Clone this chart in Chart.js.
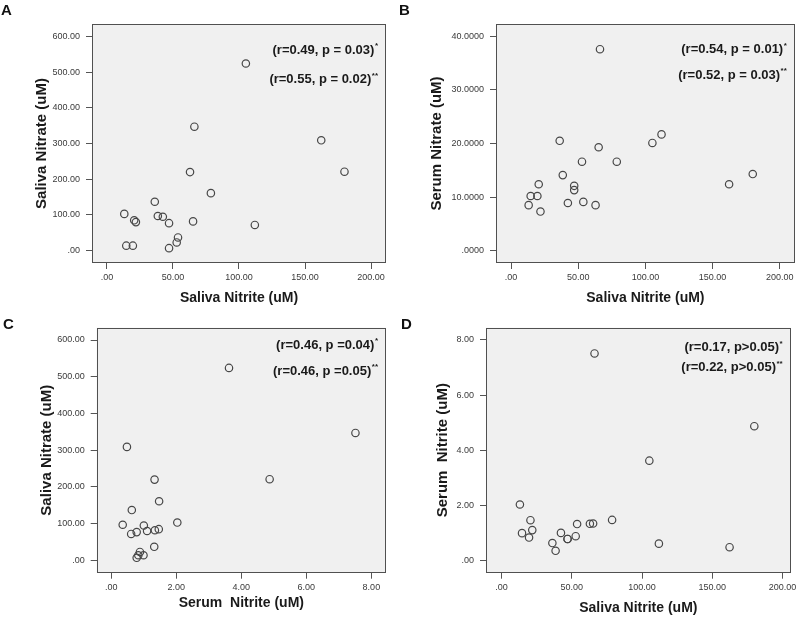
<!DOCTYPE html>
<html><head><meta charset="utf-8">
<script src="https://cdn.jsdelivr.net/npm/chart.js@4/dist/chart.umd.min.js"></script>
<style>
html,body{margin:0;padding:0;background:#fff;}
#wrap{position:relative;width:800px;height:617px;overflow:hidden;background:#fff;}
canvas{position:absolute;}
.lbl{position:absolute;font:bold 15px "Liberation Sans",Arial,sans-serif;color:#111;line-height:1;}
</style></head><body>
<div id="wrap">
<canvas id="cA" width="400" height="310" style="left:0;top:0"></canvas>
<canvas id="cB" width="400" height="310" style="left:400px;top:0"></canvas>
<canvas id="cC" width="400" height="307" style="left:0;top:310px"></canvas>
<canvas id="cD" width="400" height="307" style="left:400px;top:310px"></canvas>
<div class="lbl" style="left:1px;top:2px">A</div>
<div class="lbl" style="left:399px;top:2px">B</div>
<div class="lbl" style="left:3px;top:316px">C</div>
<div class="lbl" style="left:401px;top:316px">D</div>
</div>
<script>
// ---- data (one entry per subject) ----
const salivaNitrite = [13.1, 14.6, 19.6, 20.6, 21.9, 36.2, 38.5, 42.3, 47.0, 47.0, 52.8, 53.8, 62.9, 65.2, 66.2, 78.7, 105.2, 112.0, 162.3, 179.9];
const salivaNitrate = [103, 14, 14, 85, 80, 137, 97, 95, 77, 7, 23, 37, 220, 82, 347, 161, 524, 72, 309, 221];
const serumNitrate  = [8.5, 10.2, 10.2, 12.4, 7.3, 20.5, 14.1, 8.9, 12.1, 11.3, 16.6, 9.1, 8.5, 19.3, 37.6, 16.6, 20.1, 21.7, 12.4, 14.3];
const serumNitrite  = [2.03, 0.99, 0.83, 1.46, 1.10, 0.63, 0.35, 1.00, 0.78, 0.78, 0.88, 1.32, 1.33, 1.34, 7.51, 1.47, 3.62, 0.61, 0.48, 4.87];

// ---- tick values and labels ----
const ticksSalivaNitrite = [0, 50, 100, 150, 200];
const labelsSalivaNitrite = ['.00', '50.00', '100.00', '150.00', '200.00'];
const ticksSalivaNitrate = [0, 100, 200, 300, 400, 500, 600];
const labelsSalivaNitrate = ['.00', '100.00', '200.00', '300.00', '400.00', '500.00', '600.00'];
const ticksSerumNitrate = [0, 10, 20, 30, 40];
const labelsSerumNitrate = ['.0000', '10.0000', '20.0000', '30.0000', '40.0000'];
const ticksSerumNitrite = [0, 2, 4, 6, 8];
const labelsSerumNitrite = ['.00', '2.00', '4.00', '6.00', '8.00'];

// ---- statistics text ----
const statsA = ['(r=0.49, p = 0.03)', '(r=0.55, p = 0.02)'];
const statsB = ['(r=0.54, p = 0.01)', '(r=0.52, p = 0.03)'];
const statsC = ['(r=0.46, p =0.04)', '(r=0.46, p =0.05)'];
const statsD = ['(r=0.17, p>0.05)', '(r=0.22, p>0.05)'];
const stars = ['*', '**'];

const FONT = '"Liberation Sans", Arial, sans-serif';

const framePlugin = {
  id: 'frame',
  beforeDraw(chart) {
    const {ctx, chartArea: a} = chart;
    ctx.save();
    ctx.fillStyle = '#f0f0f0';
    ctx.fillRect(a.left, a.top, a.right - a.left, a.bottom - a.top);
    ctx.restore();
  },
  afterDatasetsDraw(chart) {
    const {ctx, chartArea: a} = chart;
    ctx.save();
    ctx.strokeStyle = '#505050';
    ctx.lineWidth = 1;
    const l = Math.round(a.left) + 0.5, t = Math.round(a.top) + 0.5;
    const r = Math.round(a.right) - 0.5, b = Math.round(a.bottom) - 0.5;
    ctx.strokeRect(l, t, r - l, b - t);
    ctx.restore();
  }
};

const statsPlugin = {
  id: 'stats',
  afterDraw(chart, args, opts) {
    const {ctx, chartArea: a} = chart;
    ctx.save();
    ctx.fillStyle = '#1a1a1a';
    ctx.textBaseline = 'middle';
    ctx.textAlign = 'left';
    opts.lines.forEach((txt, i) => {
      const y = a.top + opts.dy[i];
      ctx.font = 'bold 13px ' + FONT;
      const mw = ctx.measureText(txt).width;
      ctx.font = 'bold 8px ' + FONT;
      const sw = ctx.measureText(stars[i]).width;
      const x0 = a.right - opts.right - sw - mw - 0.5;
      ctx.font = 'bold 13px ' + FONT;
      ctx.fillText(txt, x0, y);
      ctx.font = 'bold 8px ' + FONT;
      ctx.fillText(stars[i], x0 + mw + 0.5, y - 4);
    });
    ctx.restore();
  }
};

function axis(min, max, tickVals, tickLabels, title, isX, size, titlePad, titleSize) {
  return {
    type: 'linear',
    position: isX ? 'bottom' : 'left',
    min: min, max: max,
    afterBuildTicks: s => { s.ticks = tickVals.map(v => ({value: v})); },
    afterFit: s => {
      if (isX) { s.height = size; s.paddingLeft = 0; s.paddingRight = 0; }
      else { s.width = size; s.paddingTop = 0; s.paddingBottom = 0; }
    },
    ticks: {
      autoSkip: false,
      maxRotation: 0,
      padding: isX ? 3 : 6,
      color: '#3a3a3a',
      font: {family: FONT, size: 9},
      callback: (v, i) => tickLabels[i]
    },
    grid: {
      display: true,
      drawOnChartArea: false,
      drawTicks: true,
      tickLength: 6,
      tickColor: '#555555',
      color: '#555555',
      lineWidth: 1
    },
    border: {display: false},
    title: {
      display: true,
      text: title,
      color: '#1a1a1a',
      font: {family: FONT, size: titleSize, weight: 'bold'},
      padding: isX ? {top: 0, bottom: titlePad} : {top: titlePad, bottom: 0}
    }
  };
}

function makeChart(id, xs, ys, xAxis, yAxis, pad, stats, dy) {
  const pts = xs.map((x, i) => ({x: x, y: ys[i]}));
  return new Chart(document.getElementById(id), {
    type: 'scatter',
    data: {datasets: [{
      data: pts,
      pointRadius: 3.7,
      pointBorderWidth: 1.2,
      pointBorderColor: '#474747',
      pointBackgroundColor: 'rgba(0,0,0,0)',
      showLine: false
    }]},
    options: {
      responsive: false,
      animation: false,
      events: [],
      layout: {padding: pad},
      plugins: {
        legend: {display: false},
        tooltip: {enabled: false},
        stats: {lines: stats, dy: dy, right: 8}
      },
      scales: {x: xAxis, y: yAxis}
    },
    plugins: [framePlugin, statsPlugin]
  });
}

// Panel A
makeChart('cA', salivaNitrite, salivaNitrate,
  axis(-11.36, 211.36, ticksSalivaNitrite, labelsSalivaNitrite, 'Saliva Nitrite (uM)', true, 47, 3.9, 14),
  axis(-34.5, 634.5, ticksSalivaNitrate, labelsSalivaNitrate, 'Saliva Nitrate (uM)', false, 92, 32.7, 15),
  {left: 0, top: 24, right: 14, bottom: 0}, statsA, [26, 55.3]);

// Panel B
makeChart('cB', salivaNitrite, serumNitrate,
  axis(-11.2, 211.2, ticksSalivaNitrite, labelsSalivaNitrite, 'Saliva Nitrite (uM)', true, 47, 3.9, 14),
  axis(-2.3, 42.3, ticksSerumNitrate, labelsSerumNitrate, 'Serum Nitrate (uM)', false, 96, 28.3, 15),
  {left: 0, top: 24, right: 2, bottom: 0}, statsB, [25.3, 51]);

// Panel C
makeChart('cC', serumNitrite, salivaNitrate,
  axis(-0.45, 8.45, ticksSerumNitrite, labelsSerumNitrite, 'Serum  Nitrite (uM)', true, 44.3, 5.6, 14),
  axis(-33.5, 633.5, ticksSalivaNitrate, labelsSalivaNitrate, 'Saliva Nitrate (uM)', false, 96.7, 37.7, 15),
  {left: 0, top: 17.7, right: 14, bottom: 0}, statsC, [17.3, 43.3]);

// Panel D
makeChart('cD', salivaNitrite, serumNitrite,
  axis(-11.03, 205.8, ticksSalivaNitrite, labelsSalivaNitrite, 'Saliva Nitrite (uM)', true, 44.3, 0.6, 14),
  axis(-0.445, 8.445, ticksSerumNitrite, labelsSerumNitrite, 'Serum  Nitrite (uM)', false, 86, 34.3, 15),
  {left: 0, top: 17.7, right: 9.3, bottom: 0}, statsD, [20, 40]);
</script>
</body></html>
